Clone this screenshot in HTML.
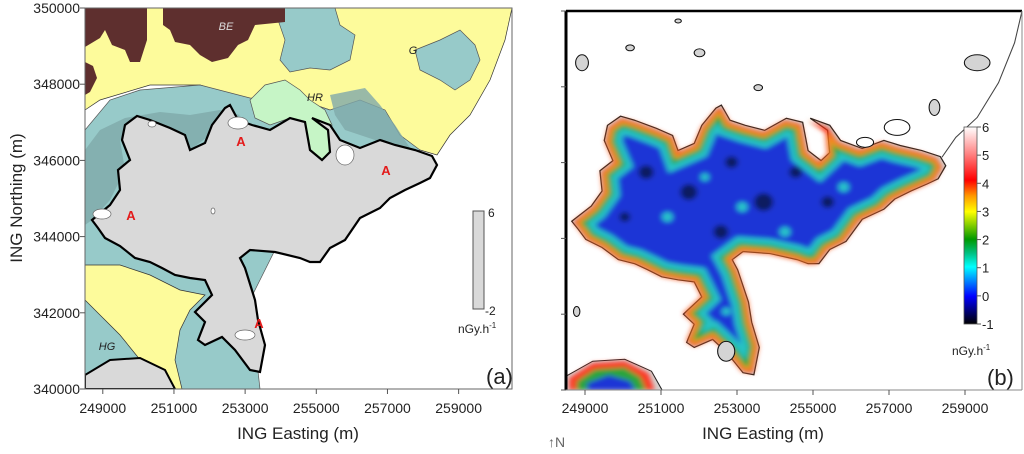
<!DOCTYPE html>
<html><head><meta charset="utf-8"><style>
body{margin:0;background:#fff;width:1024px;height:449px;overflow:hidden}
text{font-family:"Liberation Sans",sans-serif;fill:#222}
</style></head><body>
<svg id="fig" width="1024" height="449" viewBox="0 0 1024 449">
<defs>
<linearGradient id="cbar" x1="0" y1="1" x2="0" y2="0">
<stop offset="0" stop-color="#000"/><stop offset="0.14" stop-color="#0000ff"/><stop offset="0.29" stop-color="#00ffff"/>
<stop offset="0.36" stop-color="#00c080"/><stop offset="0.43" stop-color="#009900"/><stop offset="0.57" stop-color="#ffff00"/>
<stop offset="0.65" stop-color="#ff9900"/><stop offset="0.73" stop-color="#ff0000"/><stop offset="0.86" stop-color="#ff8080"/><stop offset="1" stop-color="#ffffff"/>
</linearGradient>
<filter id="blur"><feGaussianBlur stdDeviation="2.5"/></filter>
<path id="main" d="M92,220 L110,205 120,190 118,170 130,160 122,140 125,125 137,116 150,120 170,128 185,135 190,150 205,143 212,125 225,108 230,105 238,120 252,125 270,130 290,118 305,122 310,150 322,160 330,152 328,130 312,118 330,125 340,140 360,148 380,140 395,145 415,150 432,156 437,165 430,178 420,183 405,190 390,198 380,208 360,218 345,240 330,248 320,262 310,262 300,258 275,252 250,250 240,258 245,268 255,300 258,320 265,345 260,372 250,370 235,350 222,337 205,345 198,340 205,322 195,312 212,295 205,280 190,278 175,275 162,268 150,262 135,258 120,246 105,238 98,228 Z"/>
<clipPath id="mainclip"><use href="#main"/></clipPath>
<clipPath id="pa"><rect x="85" y="8" width="427" height="381"/></clipPath>
<clipPath id="pb"><rect x="566" y="11" width="456" height="379"/></clipPath>
</defs>

<!-- Panel A -->
<g clip-path="url(#pa)">
<polygon fill="#fdfb9b" stroke="#333" stroke-width="0.7" points="85,8 512,8 505,40 490,80 470,115 450,135 437,155 420,150 380,130 330,110 300,100 250,100 200,85 150,85 100,100 85,110"/>
<polygon fill="#97cac9" stroke="#555" stroke-width="0.7" points="278,8 335,8 340,25 355,35 350,60 330,70 310,68 290,72 280,60 285,40 278,20"/>
<polygon fill="#97cac9" stroke="#555" stroke-width="0.7" points="415,50 440,40 460,30 475,45 480,60 470,80 455,90 440,80 420,70"/>
<polygon fill="#5e2f2e" points="85,8 147,8 147,40 140,62 130,62 125,50 112,45 105,30 100,38 85,47"/>
<polygon fill="#5e2f2e" points="163,8 285,8 285,22 255,25 248,40 238,45 228,58 212,62 200,55 190,45 175,42 170,30 163,25"/>
<polygon fill="#5e2f2e" points="85,62 93,66 97,78 90,92 85,95"/>
<polygon fill="#97cac9" stroke="#555" stroke-width="0.7" points="85,130 110,100 140,90 200,85 250,98 300,100 330,110 360,100 385,110 400,135 420,150 300,200 250,300 260,389 85,389"/>
<polygon fill="#7fa9aa" opacity="0.8" points="85,150 100,130 125,118 160,112 190,115 220,110 240,115 210,135 190,150 170,135 140,125 120,140 125,170 110,200 92,220 85,225"/>
<polygon fill="#fdfb9b" stroke="#333" stroke-width="0.7" points="85,265 120,265 150,275 180,290 205,295 190,310 180,330 175,360 182,389 170,389 150,372 120,335 85,300"/>
<polygon fill="#c6f5c6" stroke="#555" stroke-width="0.7" points="250,100 265,85 285,80 300,90 310,100 325,110 332,125 330,152 322,160 310,150 305,122 290,118 270,125 255,118"/>
<polygon fill="#7fa9aa" opacity="0.8" points="330,95 365,88 380,105 395,125 410,148 395,145 375,140 345,130 335,115"/>
<use href="#main" fill="#d9d9d9" stroke="#000" stroke-width="2.2"/>
<polygon fill="#d9d9d9" stroke="#000" stroke-width="2" points="85,375 110,360 140,358 165,370 175,389 85,389"/>
<g fill="#fff" stroke="#666" stroke-width="0.7">
<ellipse cx="238" cy="123" rx="10" ry="6"/><ellipse cx="345" cy="155" rx="9" ry="10"/><ellipse cx="102" cy="214" rx="9" ry="5"/>
<ellipse cx="245" cy="335" rx="10" ry="5"/><ellipse cx="213" cy="211" rx="2" ry="3"/><ellipse cx="152" cy="124" rx="4" ry="3"/>
</g>
</g>
<rect x="85" y="8" width="427" height="381" fill="none" stroke="#666" stroke-width="1"/>
<g font-weight="bold" font-size="13">
<text x="241" y="146" text-anchor="middle" style="fill:#e31b1b">A</text><text x="386" y="175" text-anchor="middle" style="fill:#e31b1b">A</text>
<text x="131" y="220" text-anchor="middle" style="fill:#e31b1b">A</text><text x="259" y="328" text-anchor="middle" style="fill:#e31b1b">A</text>
</g>
<g font-style="italic" font-size="11">
<text x="226" y="30" text-anchor="middle" style="fill:#ddd">BE</text><text x="413" y="54" text-anchor="middle">G</text>
<text x="315" y="101" text-anchor="middle">HR</text><text x="107" y="350" text-anchor="middle">HG</text>
</g>
<rect x="473" y="211" width="11" height="98" fill="#d9d9d9" stroke="#555"/>
<text x="488" y="217" font-size="12">6</text>
<text x="485" y="315" font-size="12">-2</text>
<text x="458" y="333" font-size="12">nGy.h<tspan dy="-5" font-size="8">-1</tspan></text>
<text x="486" y="384" font-size="22">(a)</text>
<g id="axA"></g>
<text transform="translate(22,198) rotate(-90)" text-anchor="middle" font-size="17">ING Northing (m)</text>
<text x="298" y="439" text-anchor="middle" font-size="17">ING Easting (m)</text>

<!-- Panel B -->
<g clip-path="url(#pb)">
<g transform="translate(566,11) scale(1.068,0.995) translate(-85,-8)">
<path d="M437,155 L450,135 470,115 490,80 505,40 512,8" fill="none" stroke="#444" stroke-width="1"/>
<use href="#main" fill="#d4d4d4" stroke="#222" stroke-width="1.2" transform="translate(-3,-4) scale(1.015)"/>
<polygon fill="#d4d4d4" stroke="#222" stroke-width="1" points="85,375 110,360 140,358 165,370 175,389 85,389"/>
<g filter="url(#blur)">
<g clip-path="url(#mainclip)">
<use href="#main" fill="#1c35d6"/>
<use href="#main" fill="none" stroke="#25c2c4" stroke-width="30"/>
<use href="#main" fill="none" stroke="#2aa53a" stroke-width="18"/>
<use href="#main" fill="none" stroke="#f0a020" stroke-width="10"/>
<use href="#main" fill="none" stroke="#ff2a10" stroke-width="5"/>
<g fill="#101a60">
<circle cx="160" cy="170" r="7"/><circle cx="200" cy="190" r="8"/><circle cx="240" cy="160" r="6"/><circle cx="270" cy="200" r="9"/>
<circle cx="300" cy="170" r="6"/><circle cx="230" cy="230" r="7"/><circle cx="330" cy="200" r="6"/><circle cx="255" cy="280" r="6"/><circle cx="140" cy="215" r="5"/>
</g>
<g fill="#27c4c9">
<circle cx="180" cy="215" r="5"/><circle cx="250" cy="205" r="5"/><circle cx="215" cy="175" r="4"/><circle cx="290" cy="230" r="5"/><circle cx="345" cy="185" r="5"/><circle cx="235" cy="310" r="4"/>
</g>
</g>
<polygon fill="#ff3020" points="88,377 110,362 140,360 162,372 168,389 88,389"/>
<polygon fill="#2aa53a" points="95,380 112,368 140,366 155,376 160,389 95,389"/>
<polygon fill="#1c35d6" points="105,382 125,374 145,380 150,389 105,389"/>
</g>
<g fill="#fff" stroke="#111" stroke-width="1">
<ellipse cx="395" cy="125" rx="12" ry="8"/><ellipse cx="365" cy="140" rx="8" ry="5"/>
</g>
<g fill="#d4d4d4" stroke="#111" stroke-width="1">
<ellipse cx="100" cy="60" rx="6" ry="8"/><ellipse cx="145" cy="45" rx="4" ry="3"/><ellipse cx="210" cy="50" rx="5" ry="4"/>
<ellipse cx="470" cy="60" rx="12" ry="8"/><ellipse cx="430" cy="105" rx="5" ry="8"/><ellipse cx="265" cy="85" rx="4" ry="3"/>
<ellipse cx="190" cy="18" rx="3" ry="2"/><ellipse cx="95" cy="310" rx="3" ry="5"/><ellipse cx="235" cy="350" rx="8" ry="10"/>
</g>
</g>
</g>
<line x1="566" y1="11" x2="566" y2="390" stroke="#000" stroke-width="3"/>
<line x1="566" y1="11" x2="1022" y2="11" stroke="#000" stroke-width="2.5"/>
<line x1="1022" y1="11" x2="1022" y2="390" stroke="#888" stroke-width="1"/>
<line x1="566" y1="390" x2="1022" y2="390" stroke="#888" stroke-width="1"/>
<rect x="964" y="127" width="13" height="197" fill="url(#cbar)" stroke="#555" stroke-width="0.8"/>
<g id="cbTicks"></g>
<text x="952" y="355" font-size="12">nGy.h<tspan dy="-5" font-size="8">-1</tspan></text>
<text x="987" y="385" font-size="22">(b)</text>
<g id="axB"></g>
<text x="763" y="439" text-anchor="middle" font-size="17">ING Easting (m)</text>
<text x="548" y="447" font-size="14" style="fill:#666">↑N</text>
</svg>
<script>
const xTicks = [249000, 251000, 253000, 255000, 257000, 259000];
const yTicks = [340000, 342000, 344000, 346000, 348000, 350000];
const cbTicks = [-1, 0, 1, 2, 3, 4, 5, 6];
const xDomain = [248500, 260500];
const yDomain = [340000, 350000];
const cbDomain = [-1, 6];
const NS = 'http://www.w3.org/2000/svg';
function mk(tag, attrs, parent, txt) {
  const e = document.createElementNS(NS, tag);
  for (const k in attrs) e.setAttribute(k, attrs[k]);
  if (txt !== undefined) e.textContent = txt;
  parent.appendChild(e); return e;
}
function scale(d, r) { return v => r[0] + (v - d[0]) / (d[1] - d[0]) * (r[1] - r[0]); }
const xa = scale(xDomain, [85, 512]), ya = scale(yDomain, [389, 8]);
const xb = scale(xDomain, [566, 1022]), yb = scale(yDomain, [390, 11]);
const cb = scale(cbDomain, [324, 127]);
const axA = document.getElementById('axA'), axB = document.getElementById('axB'), cbG = document.getElementById('cbTicks');
xTicks.forEach(v => {
  const t = mk('line', {x1: xa(v), x2: xa(v), y1: 389, y2: 394, stroke: '#555'}, axA);
  
  
  const l = mk('text', {x: xa(v), y: 413, 'text-anchor': 'middle', 'font-size': 14}, axA, v);
  
  
  const t2 = mk('line', {x1: xb(v), x2: xb(v), y1: 390, y2: 395, stroke: '#555'}, axB);
  
  
  const l2 = mk('text', {x: xb(v), y: 413, 'text-anchor': 'middle', 'font-size': 14}, axB, v);
  
  
});
yTicks.forEach(v => {
  const t = mk('line', {x1: 80, x2: 85, y1: ya(v), y2: ya(v), stroke: '#555'}, axA);
  
  
  const l = mk('text', {x: 80, y: ya(v) + 5, 'text-anchor': 'end', 'font-size': 14}, axA, v);
  
  
  const t2 = mk('line', {x1: 561, x2: 566, y1: yb(v), y2: yb(v), stroke: '#555'}, axB);
  
  
});
cbTicks.forEach(v => {
  const t = mk('line', {x1: 977, x2: 981, y1: cb(v), y2: cb(v), stroke: '#555'}, cbG);
  
  
  const l = mk('text', {x: 982, y: cb(v) + 5, 'font-size': 13}, cbG, v);
  
  
});
</script>
</body></html>
